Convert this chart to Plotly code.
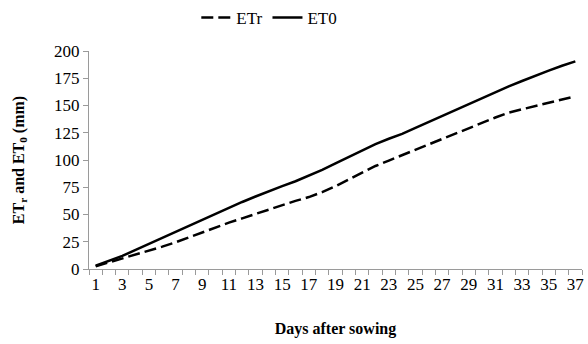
import plotly.graph_objects as go

days = list(range(1, 38))
etr = [2.5, 6, 9.5, 13, 16.5, 20.5, 24.5, 29, 34, 38.5, 42.5, 46.5, 50.5, 55, 59, 62.5,
       66, 70.5, 76, 82, 88.5, 94.5, 99.5, 104.5, 109.5, 114.5, 119.5, 124.5, 129.5,
       134.5, 139, 143.5, 146.5, 149.5, 152, 155, 158.5]
et0 = [3, 7.5, 12, 17.5, 23, 28.5, 34.5, 40, 45.5, 51, 56.5, 61.5, 66.5, 71.5, 76, 80.5,
       85.5, 91, 97, 103, 109, 114.5, 119.5, 124, 129.5, 135, 140.5, 145.5, 151.5, 157,
       162, 167.5, 172.5, 177.5, 182, 186.5, 190.5]
x_ticks = list(range(1, 38, 2))
y_ticks = [0, 25, 50, 75, 100, 125, 150, 175, 200]

FAM = "Liberation Serif, Times New Roman, serif"

fig = go.Figure()
fig.add_trace(go.Scatter(x=days, y=etr, mode="lines", name="ETr",
                         line=dict(color="black", width=2.5, dash="12px,5px")))
fig.add_trace(go.Scatter(x=days, y=et0, mode="lines", name="ET0",
                         line=dict(color="black", width=2.5)))

axis_col = "#9a9a9a"
fig.update_layout(
    width=588, height=344,
    margin=dict(l=89, r=6, t=51, b=75, autoexpand=False),
    paper_bgcolor="white", plot_bgcolor="white",
    font=dict(family=FAM, size=17, color="black"),
    showlegend=True,
    legend=dict(orientation="h", x=0.458, xanchor="center", y=1.0, yanchor="top",
                xref="container", yref="container", itemwidth=30,
                font=dict(family=FAM, size=17, color="black")),
    xaxis=dict(range=[0.5, 37.5], tickvals=x_ticks, ticktext=[str(v) for v in x_ticks],
               showgrid=False, zeroline=False, showline=True, linecolor=axis_col, linewidth=1,
               ticks="", ticklen=5, automargin=False,
               minor=dict(ticks="outside", ticklen=5, tickcolor=axis_col, tick0=0.5, dtick=1, showgrid=False),
               title=dict(text="<b>Days after sowing</b>", font=dict(family=FAM, size=16, color="black"), standoff=29),
               tickfont=dict(family=FAM, size=17, color="black")),
    yaxis=dict(range=[0, 200], tickvals=y_ticks, showgrid=False, zeroline=False,
               showline=True, linecolor=axis_col, linewidth=1, ticks="outside", ticklen=5,
               tickcolor=axis_col, automargin=False,
               title=dict(text="<b>ET<sub>r</sub> and ET<sub>0</sub> (mm)</b>",
                          font=dict(family=FAM, size=16, color="black"), standoff=25),
               tickfont=dict(family=FAM, size=17, color="black")),
)

fig.write_html("out.html", config={"displayModeBar": False},
               post_script="document.body.style.margin='0px';document.body.style.padding='0px';")
